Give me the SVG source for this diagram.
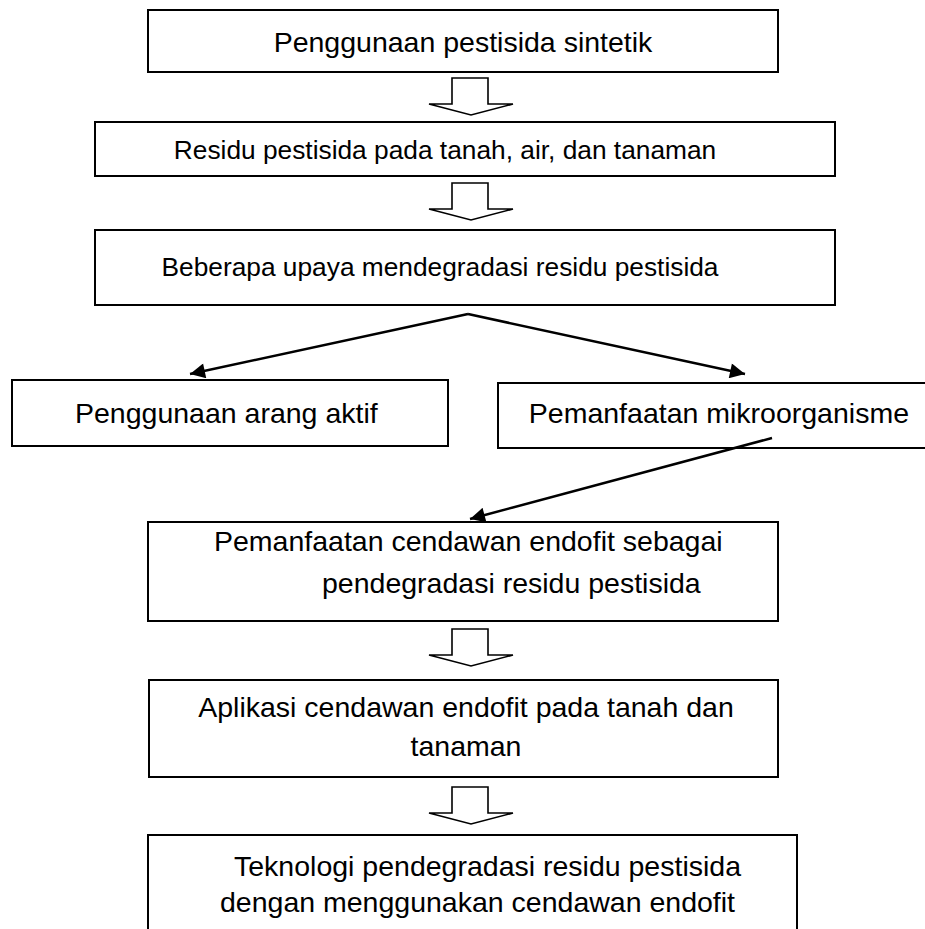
<svg xmlns="http://www.w3.org/2000/svg" width="925" height="929" viewBox="0 0 925 929">
<style>
.box{fill:#fff;stroke:#000;stroke-width:2}
.t{font-family:"Liberation Sans",Arial,sans-serif;font-size:28.5px;fill:#000}
.m{text-anchor:middle}
.s2{font-size:26.3px}
.ha{fill:#fff;stroke:#000;stroke-width:1.6;stroke-linejoin:miter}
.con{stroke:#000;stroke-width:2.5;fill:none}
</style>
<defs>
<marker id="ah" viewBox="0 0 10 10" refX="10" refY="5" markerWidth="8" markerHeight="6" markerUnits="strokeWidth" orient="auto">
<path d="M0,0 L10,5 L0,10 z" fill="#000"/>
</marker>
<path id="hollow" d="M-19,0 L17,0 L17,26 L42,26 L0,37 L-42,26 L-19,26 Z"/>
</defs>
<rect width="925" height="929" fill="#fff"/>
<g id="n1"><rect class="box" x="148" y="10" width="630" height="62"/><text class="t m" x="463" y="52">Penggunaan pestisida sintetik</text></g>
<g id="n2"><rect class="box" x="95" y="122" width="740" height="54"/><text class="t m s2" x="445" y="159">Residu pestisida pada tanah, air, dan tanaman</text></g>
<g id="n3"><rect class="box" x="95" y="230" width="740" height="75"/><text class="t m s2" x="440" y="276">Beberapa upaya mendegradasi residu pestisida</text></g>
<g id="n4"><rect class="box" x="12" y="380" width="436" height="66"/><text class="t" x="75" y="423">Penggunaan arang aktif</text></g>
<g id="n5"><rect class="box" x="498" y="383" width="440" height="65"/><text class="t" x="909" y="423" text-anchor="end">Pemanfaatan mikroorganisme</text></g>
<g id="n6"><rect class="box" x="148" y="522" width="630" height="99"/><text class="t" x="214" y="551">Pemanfaatan cendawan endofit sebagai</text><text class="t" x="322" y="593">pendegradasi residu pestisida</text></g>
<g id="n7"><rect class="box" x="149" y="680" width="629" height="97"/><text class="t m" x="466" y="717">Aplikasi cendawan endofit pada tanah dan</text><text class="t m" x="466" y="756">tanaman</text></g>
<g id="n8"><path class="box" d="M148,940 L148,835 L797,835 L797,940"/><text class="t" x="234" y="876">Teknologi pendegradasi residu pestisida</text><text class="t" x="220" y="912">dengan menggunakan cendawan endofit</text></g>
<g id="connectors">
<use href="#hollow" class="ha" transform="translate(471,78)"/>
<use href="#hollow" class="ha" transform="translate(471,183)"/>
<use href="#hollow" class="ha" transform="translate(471,629)"/>
<use href="#hollow" class="ha" transform="translate(471,787)"/>
<line class="con" x1="468" y1="314" x2="190" y2="374" marker-end="url(#ah)"/>
<line class="con" x1="468" y1="314" x2="745" y2="374" marker-end="url(#ah)"/>
<line class="con" x1="772" y1="438" x2="470" y2="519" marker-end="url(#ah)"/>
</g>
</svg>
